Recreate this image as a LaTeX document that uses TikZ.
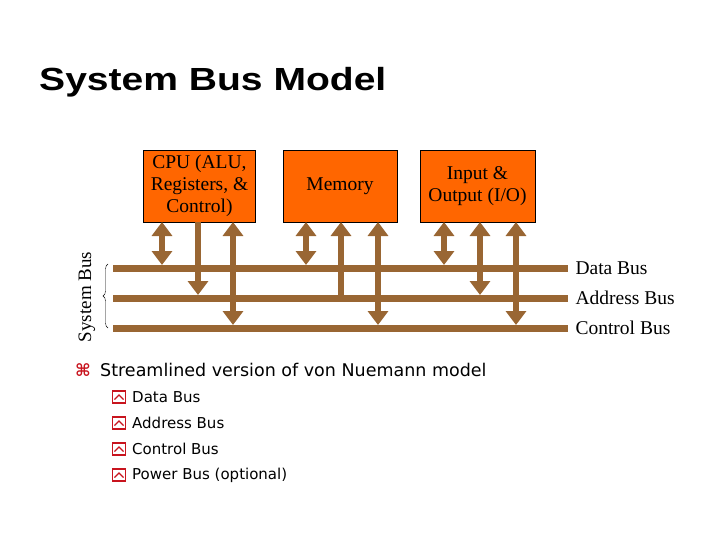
\documentclass[tikz,border=0pt]{standalone}
\usepackage{fontspec}
\setmainfont{Liberation Serif}
\newfontfamily\sansf{Liberation Sans}
\newfontfamily\djv{DejaVu Sans}
\usetikzlibrary{arrows.meta,decorations.pathreplacing,calc}
\definecolor{busc}{RGB}{153,102,51}
\definecolor{boxc}{RGB}{255,102,0}
\definecolor{bulc}{RGB}{200,20,30}
\begin{document}
\begin{tikzpicture}[x=1pt,y=-1pt,
  box/.style={draw=black,fill=boxc,minimum width=112pt,minimum height=72pt,inner sep=0pt,align=center,font=\fontsize{19.5}{22}\selectfont},
  bus/.style={busc,line width=7pt},
  arr/.style={busc,line width=6pt,arrows={-Triangle[width=20pt,length=14pt]}},
  darr/.style={busc,line width=6pt,arrows={Triangle[width=20pt,length=14pt]-Triangle[width=20pt,length=14pt]}},
  lab/.style={anchor=west,font=\fontsize{19.5}{22}\selectfont},
  sub/.style={anchor=west,font=\djv\fontsize{15}{18}\selectfont,inner sep=0pt}]
\useasboundingbox (0,0) rectangle (720,540);
\node[anchor=west,font=\sansf\bfseries\fontsize{32}{34}\selectfont,xscale=1.22,inner sep=0pt] (title) at (39,82) {System Bus Model};
\node[box] (cpu) at (199.5,186) {CPU (ALU,\\Registers, \&\\Control)};
\node[box,minimum width=114pt] (mem) at (340,186) {Memory};
\node[box,minimum width=115pt] (io) at (477.5,186) {Input \&\\Output (I/O)};
\coordinate (d0) at (113,268); \coordinate (d1) at (568,268);
\coordinate (a0) at (113,298); \coordinate (a1) at (568,298);
\coordinate (c0) at (113,328); \coordinate (c1) at (568,328);
\draw[bus] (d0) -- (d1); \draw[bus] (a0) -- (a1); \draw[bus] (c0) -- (c1);
\node[lab] (dl) at (572,268) {Data Bus};
\node[lab] (al) at (572,298) {Address Bus};
\node[lab] (cl) at (572,328) {Control Bus};
% CPU
\draw[darr] (162,222) -- (162,265);
\draw[arr] (198,222) -- (198,295);
\draw[darr] (233,222) -- (233,325);
% Memory
\draw[darr] (306,222) -- (306,265);
\draw[arr] (341,298) -- (341,222);
\draw[darr] (378,222) -- (378,325);
% IO
\draw[darr] (444,222) -- (444,265);
\draw[darr] (480,222) -- (480,295);
\draw[darr] (516,222) -- (516,325);
% brace
\draw[decorate,decoration={brace,amplitude=5pt},thin] (108,328) -- (108,264);
\node[rotate=90,font=\fontsize{19}{22}\selectfont] (sb) at (87,297) {System Bus};
% bullets
\node[anchor=west,text=bulc,font=\djv\bfseries\fontsize{17}{18}\selectfont,inner sep=0pt] (b0) at (75,370) {⌘};
\node[anchor=west,font=\djv\fontsize{17.5}{20}\selectfont,inner sep=0pt] (t0) at (100,370) {Streamlined version of von Nuemann model};
\foreach \y/\t [count=\i] in {397/Data Bus,423/Address Bus,449/Control Bus,475/Power Bus (optional)}{
  \node[draw=bulc,line width=1.3pt,minimum width=13pt,minimum height=12pt,inner sep=0pt] (ic\i) at (119,\y) {};
  \draw[bulc,line width=1.3pt] ($(ic\i)+(-4.5,2.5)$) -- ($(ic\i)+(0,-2)$) -- ($(ic\i)+(4.5,2.5)$);
  \node[sub] (s\i) at (132,\y) {\t};
}
\end{tikzpicture}
\end{document}
